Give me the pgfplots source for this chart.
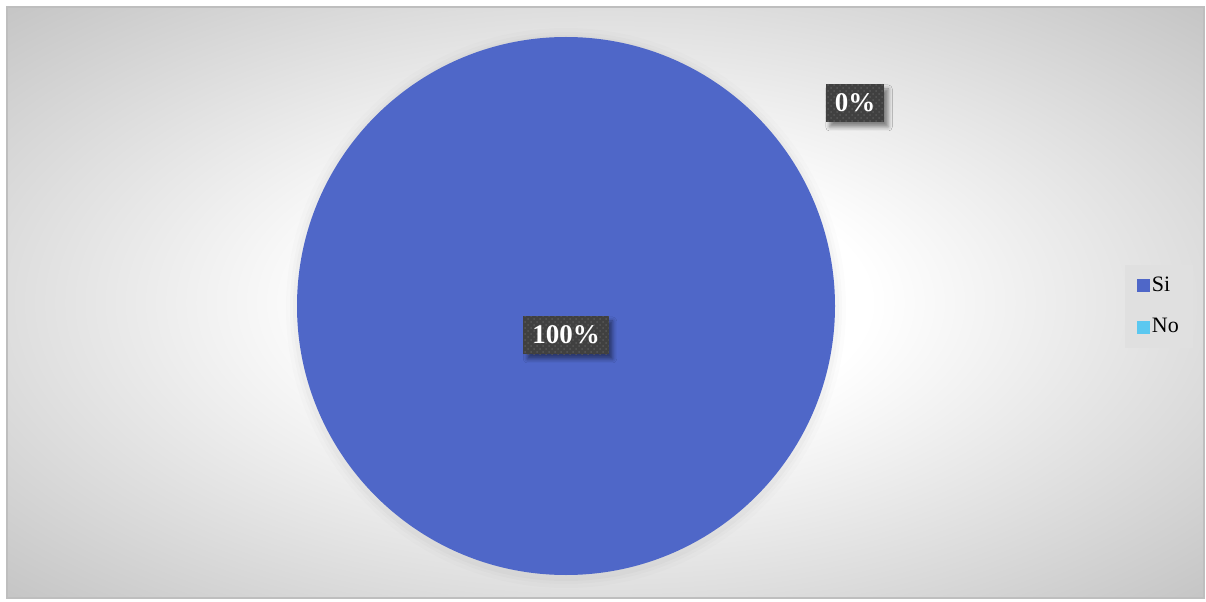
\documentclass[border=0pt]{standalone}
\usepackage{pgfplots}
\pgfplotsset{compat=1.18}
\usepackage{pgfplotstable}
\usepackage{fontspec}
\setmainfont{Liberation Serif}
\usetikzlibrary{shadows,shadows.blur,patterns}
\definecolor{si}{RGB}{79,103,200}
\definecolor{no}{RGB}{91,200,240}
\definecolor{lab}{RGB}{64,64,64}
\definecolor{labdot}{RGB}{88,88,88}
\definecolor{bgout}{RGB}{198,198,198}
\definecolor{frame}{RGB}{190,190,190}
\definecolor{legbg}{RGB}{224,224,224}
\pgfdeclareradialshading{bgshade}{\pgfpoint{0bp}{0bp}}{color(0bp)=(white); color(11bp)=(white); color(35bp)=(bgout); color(50bp)=(bgout)}

% pie data: label, value (%), label position (px, y from bottom)
\pgfplotstableread{
label value lx ly
Si 100 566 266
No 0 855 498
}\piedata

\pgfplotstablegetelem{0}{value}\of\piedata \let\vSi\pgfplotsretval
\pgfplotstablegetelem{1}{value}\of\piedata \let\vNo\pgfplotsretval
\pgfplotstablegetelem{0}{lx}\of\piedata \let\xSi\pgfplotsretval
\pgfplotstablegetelem{0}{ly}\of\piedata \let\ySi\pgfplotsretval
\pgfplotstablegetelem{1}{lx}\of\piedata \let\xNo\pgfplotsretval
\pgfplotstablegetelem{1}{ly}\of\piedata \let\yNo\pgfplotsretval
\pgfmathsetmacro\aSi{-3.6*\vSi}
\pgfmathsetmacro\sNo{90+\aSi}
\pgfmathsetmacro\aNo{-3.6*\vNo}

% slice: #1 colour, #2 start angle, #3 delta angle (negative = clockwise)
\newcommand\pieslice[3]{%
  \pgfmathparse{abs(#3)>359.9 ? 2 : (abs(#3)<0.01 ? 0 : 1)}%
  \pgfmathtruncatemacro\slicekind{\pgfmathresult}%
  \ifcase\slicekind
  \or
    \fill[#1] (axis cs:566,295) -- ++(#2:134.5pt) arc[start angle=#2, delta angle=#3, radius=134.5pt] -- cycle;
  \or
    \fill[#1] (axis cs:566,295) circle[radius=134.5pt];
  \fi}

\tikzset{pielabel/.style={fill=lab, text=white, font=\bfseries\fontsize{13.5}{15}\selectfont,
  inner xsep=4.5pt, inner ysep=0pt, minimum height=19pt,
  blur shadow={shadow xshift=2pt, shadow yshift=-2.5pt, shadow blur radius=2pt, shadow opacity=45},
  postaction={pattern=crosshatch dots, pattern color=labdot}}}

\begin{document}
\begin{tikzpicture}
\begin{axis}[x=0.5pt, y=0.5pt, xmin=0, xmax=1206, ymin=0, ymax=601,
  hide axis, clip=false,
  legend image code/.code={\fill[#1] (0pt,-3pt) rectangle (6pt,3pt);},
  legend cell align=left,
  legend style={at={(axis cs:1159,294.5)}, anchor=center, fill=legbg, draw=none,
    font=\fontsize{11}{12}\selectfont, row sep=10pt, inner xsep=6pt, inner ysep=5pt,
    nodes={inner sep=1pt}},
]
\path (axis cs:0,0) rectangle (axis cs:1206,601);
\shade[shading=bgshade] (axis cs:7,3) rectangle (axis cs:1204,594);
\draw[frame, line width=0.6pt] (axis cs:7,3) rectangle (axis cs:1204,594);
% soft halo around the pie
\fill[black, opacity=0.012] (axis cs:566,293) circle[radius=140pt];
\fill[black, opacity=0.015] (axis cs:566,293) circle[radius=138pt];
\fill[black, opacity=0.02] (axis cs:566,293) circle[radius=136.5pt];
% slices
\pieslice{si}{90}{\aSi}
\pieslice{no}{\sNo}{\aNo}
% data labels
\node[pielabel] at (axis cs:\xSi,\ySi) {\pgfmathprintnumber[assume math mode=true]{\vSi}\%};
\node[pielabel] at (axis cs:\xNo,\yNo) {\pgfmathprintnumber[assume math mode=true]{\vNo}\%};
\addlegendimage{si}
\addlegendentry{Si}
\addlegendimage{no}
\addlegendentry{No}
\end{axis}
\end{tikzpicture}
\end{document}
